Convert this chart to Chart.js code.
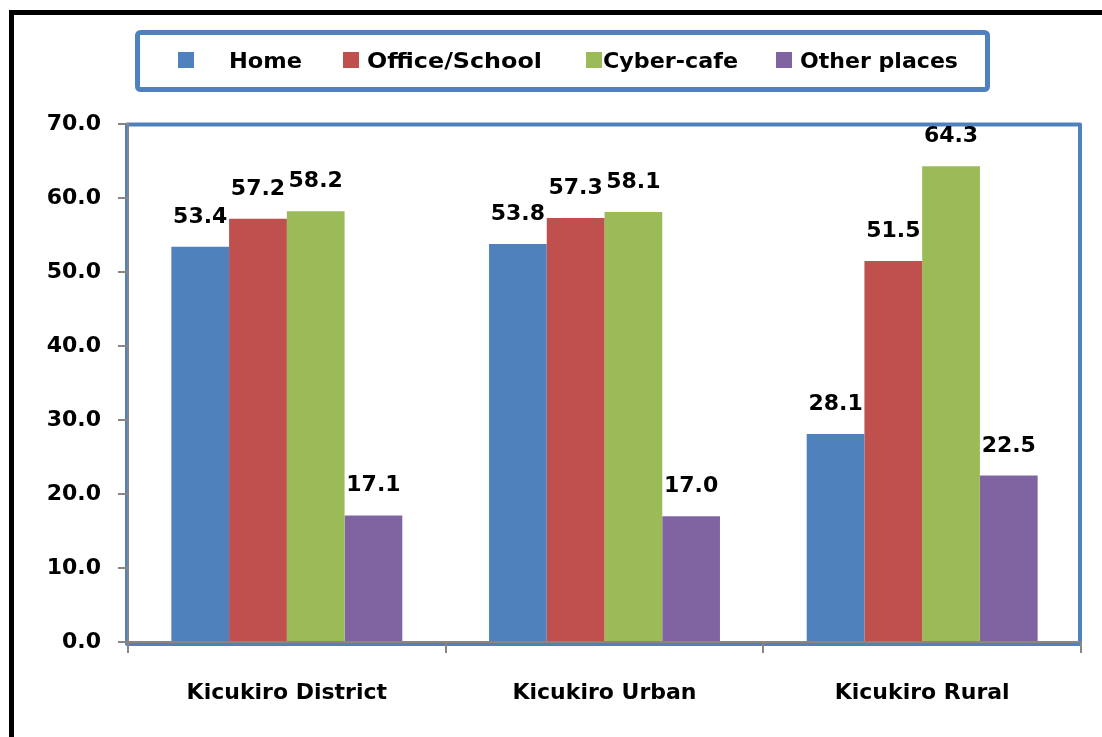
<!DOCTYPE html>
<html>
<head>
<meta charset="utf-8">
<script src="https://cdn.jsdelivr.net/npm/chart.js@4/dist/chart.umd.min.js"></script>
<style>
  html, body { margin: 0; padding: 0; background: #fff; overflow: hidden; }
  #wrap { position: relative; width: 1102px; height: 737px; }
  canvas { display: block; }
</style>
</head>
<body>
<div id="wrap"><canvas id="c" width="1102" height="737"></canvas></div>
<script>
// ---- Data ----
const categories = ['Kicukiro District', 'Kicukiro Urban', 'Kicukiro Rural'];
const seriesNames = ['Home', 'Office/School', 'Cyber-cafe', 'Other places'];
const homeValues = [53.4, 53.8, 28.1];
const officeSchoolValues = [57.2, 57.3, 51.5];
const cyberCafeValues = [58.2, 58.1, 64.3];
const otherPlacesValues = [17.1, 17.0, 22.5];
const yTickLabels = ['0.0', '10.0', '20.0', '30.0', '40.0', '50.0', '60.0', '70.0'];

// ---- Styles ----
const seriesColors = ['#4F81BD', '#C0504D', '#9BBB59', '#8064A2'];
const FONT = '"DejaVu Sans", "Liberation Sans", sans-serif';
const BLUE = '#4F81BD';
const GREY = '#868686';

Chart.defaults.font.family = FONT;
Chart.defaults.font.size = 22;
Chart.defaults.font.weight = 'bold';
Chart.defaults.color = '#000';

const allValues = [homeValues, officeSchoolValues, cyberCafeValues, otherPlacesValues];

const framePlugin = {
  id: 'frame',
  beforeDraw(chart) {
    const ctx = chart.ctx;
    const a = chart.chartArea;
    ctx.save();
    // outer black frame (top & left visible)
    ctx.fillStyle = '#000';
    ctx.fillRect(9, 10, 1102, 5);
    ctx.fillRect(9, 10, 5, 737);
    // plot area blue border
    ctx.strokeStyle = BLUE;
    ctx.lineWidth = 4;
    ctx.lineJoin = 'round';
    ctx.strokeRect(a.left - 1, a.top + 0.5, a.right - a.left, a.bottom - a.top + 1.5);
    ctx.restore();
  },
  afterDraw(chart) {
    const ctx = chart.ctx;
    ctx.save();
    // legend box
    ctx.strokeStyle = BLUE;
    ctx.lineWidth = 5;
    ctx.beginPath();
    if (ctx.roundRect) ctx.roundRect(137.5, 32.5, 850, 57, 3);
    else ctx.rect(137.5, 32.5, 850, 57);
    ctx.stroke();
    // legend items
    const boxX = [178, 343, 586, 776];
    const textX = [229, 367, 603, 800];
    const textW = [73, 175, 135, 158];
    ctx.font = 'bold 22px ' + FONT;
    ctx.textBaseline = 'alphabetic';
    ctx.textAlign = 'left';
    chart.data.datasets.forEach((ds, i) => {
      ctx.fillStyle = ds.backgroundColor;
      ctx.fillRect(boxX[i], 52, 16, 16);
      ctx.fillStyle = '#000';
      const w = ctx.measureText(ds.label).width;
      const sx = Math.max(1, textW[i] / w);
      ctx.save();
      ctx.translate(textX[i], 68);
      ctx.scale(sx, 1);
      ctx.fillText(ds.label, 0, 0);
      ctx.restore();
    });
    ctx.restore();
  },
  afterDatasetsDraw(chart) {
    const ctx = chart.ctx;
    ctx.save();
    ctx.font = 'bold 22px ' + FONT;
    ctx.fillStyle = '#000';
    ctx.textAlign = 'center';
    ctx.textBaseline = 'alphabetic';
    chart.data.datasets.forEach((ds, i) => {
      const meta = chart.getDatasetMeta(i);
      meta.data.forEach((el, j) => {
        ctx.fillText(ds.data[j].toFixed(1), el.x, el.y - 24);
      });
    });
    ctx.restore();
  }
};

new Chart(document.getElementById('c'), {
  type: 'bar',
  data: {
    labels: categories,
    datasets: seriesNames.map((name, i) => ({
      label: name,
      data: allValues[i],
      backgroundColor: seriesColors[i],
      borderWidth: 0,
      categoryPercentage: 0.727,
      barPercentage: 1.0
    }))
  },
  options: {
    responsive: false,
    animation: false,
    devicePixelRatio: 1,
    layout: { padding: { left: 0, top: 124, right: 21, bottom: 0 } },
    plugins: {
      legend: { display: false },
      tooltip: { enabled: false },
      title: { display: false }
    },
    scales: {
      x: {
        offset: true,
        grid: {
          display: true,
          drawOnChartArea: false,
          drawTicks: true,
          tickLength: 11,
          color: GREY,
          lineWidth: 2
        },
        border: { display: true, color: GREY, width: 2 },
        ticks: {
          padding: 27,
          color: '#000',
          font: { size: 22, weight: 'bold', family: FONT }
        },
        afterFit(s) { s.height = 95; }
      },
      y: {
        min: 0,
        max: 70,
        grid: {
          display: true,
          drawOnChartArea: false,
          drawTicks: true,
          tickLength: 10,
          color: GREY,
          lineWidth: 2
        },
        border: { display: true, color: GREY, width: 2 },
        ticks: {
          stepSize: 10,
          padding: 17,
          color: '#000',
          font: { size: 22, weight: 'bold', family: FONT },
          callback: (v) => yTickLabels[Math.round(v / 10)]
        },
        afterFit(s) { s.width = 128; }
      }
    }
  },
  plugins: [framePlugin]
});
</script>
</body>
</html>
